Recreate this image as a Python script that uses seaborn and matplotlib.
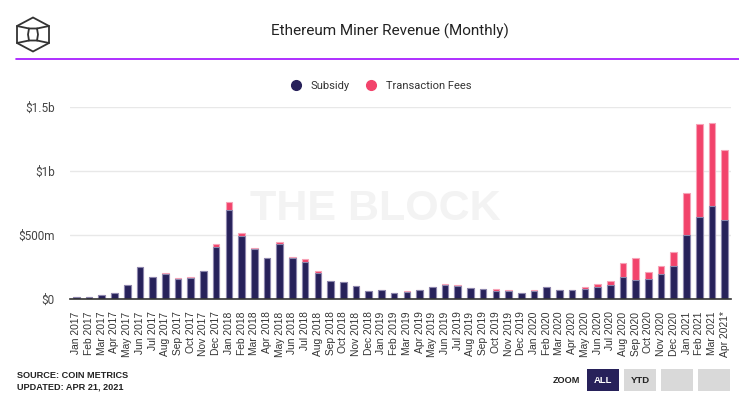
import pandas as pd
import seaborn as sns
import matplotlib.pyplot as plt
from matplotlib.lines import Line2D
from matplotlib.patches import Rectangle, Polygon

# monthly miner revenue in $ millions
months = ['Jan 2017', 'Feb 2017', 'Mar 2017', 'Apr 2017', 'May 2017', 'Jun 2017',
          'Jul 2017', 'Aug 2017', 'Sep 2017', 'Oct 2017', 'Nov 2017', 'Dec 2017',
          'Jan 2018', 'Feb 2018', 'Mar 2018', 'Apr 2018', 'May 2018', 'Jun 2018',
          'Jul 2018', 'Aug 2018', 'Sep 2018', 'Oct 2018', 'Nov 2018', 'Dec 2018',
          'Jan 2019', 'Feb 2019', 'Mar 2019', 'Apr 2019', 'May 2019', 'Jun 2019',
          'Jul 2019', 'Aug 2019', 'Sep 2019', 'Oct 2019', 'Nov 2019', 'Dec 2019',
          'Jan 2020', 'Feb 2020', 'Mar 2020', 'Apr 2020', 'May 2020', 'Jun 2020',
          'Jul 2020', 'Aug 2020', 'Sep 2020', 'Oct 2020', 'Nov 2020', 'Dec 2020',
          'Jan 2021', 'Feb 2021', 'Mar 2021', 'Apr 2021*']
subsidy = [12, 12, 30, 45, 107, 250, 170, 195, 157, 163, 220, 407,
           698, 496, 391, 320, 431, 320, 289, 202, 142, 134, 100, 63,
           71, 47, 53, 71, 94, 107, 100, 85, 76, 66, 59, 44,
           59, 92, 71, 71, 81, 92, 106, 169, 147, 155, 195, 256,
           498, 640, 728, 618]
fees = [0, 0, 0, 0, 0, 0, 0, 10, 8, 10, 0, 26,
        63, 21, 11, 3, 18, 11, 26, 13, 2, 2, 2, 1,
        1, 1, 10, 1, 2, 11, 10, 2, 2, 11, 11, 2,
        12, 2, 2, 2, 12, 24, 33, 112, 172, 55, 62, 110,
        331, 724, 650, 549]
ytick_vals = [0, 500, 1000, 1500]
ytick_labels = ['$0', '$500m', '$1b', '$1.5b']

NAVY = '#27215a'
PINK = '#f2436b'
W, H = 739, 396

df = pd.DataFrame({'month': months, 'subsidy': subsidy, 'fees': fees})
df['total'] = df['subsidy'] + df['fees']

sns.set_style('white')
plt.rcParams['font.family'] = ['Roboto', 'DejaVu Sans']

fig = plt.figure(figsize=(W / 100, H / 100), dpi=100)
ax = fig.add_axes([70 / W, 1 - 299 / H, 661 / W, 192 / H])


def fx(px):
    return px / W


def fy(py):
    return 1 - py / H


# stacked bars: total (fees) first, subsidy over it
sns.barplot(data=df, x='month', y='total', order=months, color=PINK, saturation=1,
            width=0.52, edgecolor='#f7a3b7', linewidth=0.8, errorbar=None, ax=ax, zorder=3)
sns.barplot(data=df, x='month', y='subsidy', order=months, color=NAVY, saturation=1,
            width=0.52, edgecolor='#8c87ad', linewidth=0.8, errorbar=None, ax=ax, zorder=4)

ax.set_ylim(0, 1500)
ax.set_xlim(-0.5, len(months) - 0.5)
ax.set_yticks(ytick_vals)
ax.set_yticklabels(ytick_labels, fontsize=8.5, color='#444444')
ax.set_xticks(range(len(months)))
ax.set_xticklabels(months, rotation=90, fontsize=7.4, color='#333333',
                   family=['Liberation Sans', 'DejaVu Sans'])
ax.tick_params(axis='both', length=0)
ax.tick_params(axis='x', pad=9)
ax.tick_params(axis='y', pad=11)
ax.set_xlabel('')
ax.set_ylabel('')
ax.grid(axis='y', color='#e8e8e8', linewidth=1)
ax.set_axisbelow(True)
for s in ['top', 'right', 'left']:
    ax.spines[s].set_visible(False)
ax.spines['bottom'].set_color('#333333')
ax.spines['bottom'].set_linewidth(1.2)
ax.spines['bottom'].set_zorder(5)

# watermark
ax.text((375 - 70) / 661, (299 - 209) / 192, 'THE BLOCK', transform=ax.transAxes,
        ha='center', va='center', fontsize=31, fontweight='bold', color='#f3f3f3',
        family=['Liberation Sans', 'DejaVu Sans'], zorder=1)

# title and header rule
fig.text(fx(390), fy(31), 'Ethereum Miner Revenue (Monthly)', ha='center', va='center',
         fontsize=11, color='#222222')
fig.add_artist(Line2D([fx(16), fx(739)], [fy(58.5), fy(58.5)], color='#a10cff', linewidth=1.2))

# logo
cx, cy = 33, 34.5
outer = [(cx, cy - 17), (cx + 16, cy - 8.5), (cx + 16, cy + 8.5), (cx, cy + 17),
         (cx - 16, cy + 8.5), (cx - 16, cy - 8.5)]
inner = [(cx - 4, cy - 6), (cx + 4, cy - 6), (cx + 5, cy), (cx + 4, cy + 6),
         (cx - 4, cy + 6), (cx - 5, cy)]
for pts in (outer, inner):
    fig.add_artist(Polygon([(fx(a), fy(b)) for a, b in pts], closed=True, fill=False,
                           edgecolor='#333333', linewidth=1.3))
for (a, b), (c, d) in [(outer[5], inner[0]), (outer[1], inner[1]),
                       (outer[2], inner[3]), (outer[4], inner[4])]:
    fig.add_artist(Line2D([fx(a), fx(c)], [fy(b), fy(d)], color='#333333', linewidth=1.3))

# legend
handles = [Line2D([], [], marker='o', linestyle='', markersize=7, color=NAVY),
           Line2D([], [], marker='o', linestyle='', markersize=7, color=PINK)]
fig.legend(handles, ['Subsidy', 'Transaction Fees'], loc='center', ncol=2,
           bbox_to_anchor=(fx(378), fy(86)), frameon=False, fontsize=8,
           handletextpad=0.3, columnspacing=1.0, labelcolor='#333333')

# footer
fig.text(fx(17), fy(375), 'SOURCE: COIN METRICS', fontsize=6.6, fontweight='bold',
         color='#222222', va='center', family=['Liberation Sans', 'DejaVu Sans'])
fig.text(fx(17), fy(387), 'UPDATED: APR 21, 2021', fontsize=6.6, fontweight='bold',
         color='#222222', va='center', family=['Liberation Sans', 'DejaVu Sans'])

fig.text(fx(580), fy(380.5), 'ZOOM', fontsize=6.6, fontweight='bold', color='#222222',
         ha='right', va='center', family=['Liberation Sans', 'DejaVu Sans'])
buttons = [(587, 'ALL', NAVY, 'white'), (624, 'YTD', '#d9d9d9', '#222222'),
           (661, '', '#d9d9d9', '#222222'), (698, '', '#d9d9d9', '#222222')]
for x0, lab, bg, fg in buttons:
    fig.add_artist(Rectangle((fx(x0), fy(391)), 32 / W, 22 / H, facecolor=bg,
                             edgecolor='none'))
    if lab:
        fig.text(fx(x0 + 16), fy(380.5), lab, fontsize=6.8, fontweight='bold', color=fg,
                 ha='center', va='center', family=['Liberation Sans', 'DejaVu Sans'])

fig.savefig('out.png', dpi=100)
